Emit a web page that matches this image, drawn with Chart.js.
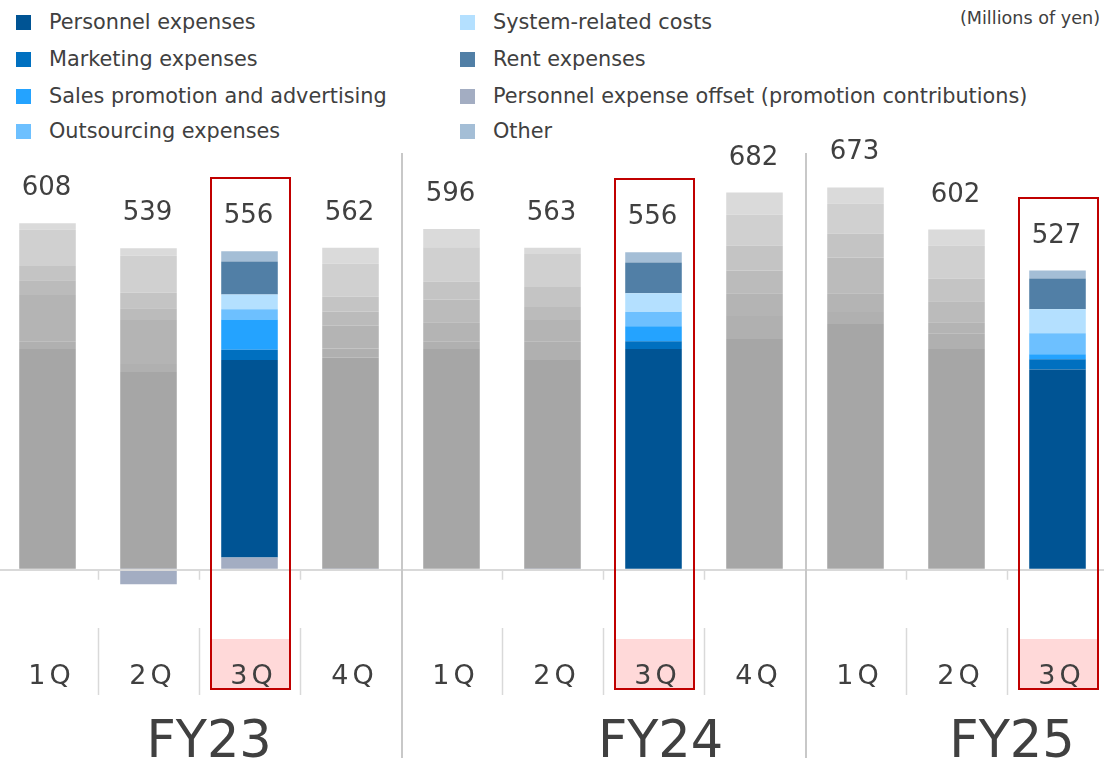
<!DOCTYPE html>
<html lang="en">
<head>
<meta charset="UTF-8">
<title>SG&amp;A expenses by quarter</title>
<style>
  html, body {
    margin: 0;
    padding: 0;
    width: 1104px;
    height: 761px;
    overflow: hidden;
    background: #fff;
    font-family: 'DejaVu Sans', Verdana, sans-serif;
  }
  .chart-box {
    position: absolute;
    left: -3px;
    top: 0;
    width: 1111px;
    height: 761px;
  }
  .legend-item {
    position: absolute;
    font-size: 20.8px;
    line-height: 24px;
    color: #404040;
    white-space: nowrap;
  }
  .legend-item i {
    position: absolute;
    left: -33px;
    top: 5px;
    width: 15px;
    height: 15px;
  }
  .unit {
    position: absolute;
    right: 4px;
    top: 8px;
    font-size: 17.6px;
    color: #404040;
  }
</style>
<script src="https://cdn.jsdelivr.net/npm/chart.js"></script>
</head>
<body>
<div id="legend"></div>
<div class="unit">(Millions of yen)</div>
<div class="chart-box"><canvas id="costChart"></canvas></div>

<script>
// quarters along the axis, grouped by fiscal year
const quarters = ['1Q', '2Q', '3Q', '4Q', '1Q', '2Q', '3Q', '4Q', '1Q', '2Q', '3Q'];
const years = ['FY23', 'FY24', 'FY25'];
const totals = [608, 539, 556, 562, 596, 563, 556, 682, 673, 602, 527];
const highlighted = [2, 6, 10]; // the 3Q columns shown in colour

// cost breakdown (millions of yen)
const personnel   = [386, 346, 347, 371, 386, 367, 386, 404, 430, 386, 350];
const marketing   = [14, 14, 18, 16, 14, 33, 14, 40, 21, 28, 18];
const salesPromo  = [81, 77, 53, 40, 33, 37, 26, 40, 33, 19, 9];
const outsourcing = [26, 21, 18, 25, 40, 23, 25, 40, 63, 37, 37];
const systemCosts = [25, 27, 26, 26, 32, 35, 33, 44, 42, 40, 42];
const rent        = [64, 65, 58, 58, 60, 58, 54, 54, 53, 58, 54];
const offset      = [0, -27, 20, -1.5, 0, -1.5, 0, 0, 0, 0, 0];
const other       = [11, 13, 18, 28, 32, 11, 18, 39, 28, 28, 14];

const seriesNames = [
    'Personnel expenses',
    'Marketing expenses',
    'Sales promotion and advertising',
    'Outsourcing expenses',
    'System-related costs',
    'Rent expenses',
    'Personnel expense offset (promotion contributions)',
    'Other'
];
const seriesValues = [personnel, marketing, salesPromo, outsourcing, systemCosts, rent, offset, other];

// styles
const seriesColors = ['#005494', '#0070C0', '#24A3FF', '#6DC0FF', '#B4E0FF', '#517FA6', '#A3ADC2', '#A4BED6'];
const greyShades   = ['#A6A6A6', '#B0B0B0', '#B4B4B4', '#BBBBBB', '#C4C4C4', '#D0D0D0', '#A3ADC2', '#DADADA'];
const stackOrder = [6, 0, 1, 2, 3, 4, 5, 7]; // offset sits at the bottom of the stack
const yearLabelAt = [1.6, 6.07, 9.55];     // horizontal position of FY labels, in category units
const textColor = '#404040';
const font = "'DejaVu Sans', Verdana, sans-serif";

// legend in two columns
const legend = document.getElementById('legend');
seriesNames.forEach((name, i) => {
    const col = Math.floor(i / 4), row = i % 4;
    const item = document.createElement('div');
    item.className = 'legend-item';
    item.style.left = (col ? 493 : 49) + 'px';
    item.style.top = [10, 47, 84, 119][row] + 'px';
    item.innerHTML = '<i style="background:' + seriesColors[i] + '"></i>' + name;
    legend.appendChild(item);
});

const datasets = stackOrder.map(s => ({
    label: seriesNames[s],
    data: seriesValues[s],
    backgroundColor: quarters.map((q, i) => highlighted.includes(i) ? seriesColors[s] : greyShades[s]),
    borderWidth: 0,
    categoryPercentage: 1,
    barPercentage: 0.56
}));

const decorations = {
    id: 'decorations',
    afterDatasetsDraw(chart) {
        const { ctx, scales: { x, y } } = chart;
        const base = y.getPixelForValue(0);
        const step = x.getPixelForValue(1) - x.getPixelForValue(0);
        const left = x.getPixelForValue(0) - step / 2;
        ctx.save();

        // label positions above each column
        const labelBase = quarters.map((q, i) => {
            let pos = 0;
            seriesValues.forEach(v => { if (v[i] > 0) pos += v[i]; });
            return y.getPixelForValue(pos) - 28;
        });

        // pink backgrounds under highlighted quarter labels
        ctx.fillStyle = '#FFD9D9';
        highlighted.forEach(i => {
            const cx = x.getPixelForValue(i);
            ctx.fillRect(cx - 39, 639, 79, 50);
        });

        // zero line
        ctx.fillStyle = '#D9D9D9';
        ctx.fillRect(0, Math.round(base), chart.width, 2);

        // quarter dividers: short ticks at the axis and lines in the label area
        ctx.strokeStyle = '#D9D9D9';
        ctx.lineWidth = 1.5;
        for (let i = 1; i < quarters.length; i++) {
            if (i % 4 === 0) continue;
            const bx = Math.round(left + i * step) + 0.5;
            ctx.beginPath();
            ctx.moveTo(bx, base + 1);
            ctx.lineTo(bx, base + 11);
            ctx.moveTo(bx, 628);
            ctx.lineTo(bx, 695);
            ctx.stroke();
        }

        // fiscal year dividers
        ctx.strokeStyle = '#C8C8C8';
        ctx.lineWidth = 2;
        [4, 8].forEach(i => {
            const bx = Math.round(left + i * step) + 1;
            ctx.beginPath();
            ctx.moveTo(bx, 153);
            ctx.lineTo(bx, 758);
            ctx.stroke();
        });

        // totals above bars
        ctx.fillStyle = textColor;
        ctx.textAlign = 'center';
        ctx.textBaseline = 'alphabetic';
        ctx.font = '26px ' + font;
        totals.forEach((t, i) => {
            ctx.fillText(String(t), x.getPixelForValue(i) - 1, labelBase[i]);
        });

        // quarter labels
        ctx.font = '27px ' + font;
        ctx.letterSpacing = '4px';
        quarters.forEach((q, i) => {
            ctx.fillText(q, x.getPixelForValue(i) + 4, 684);
        });
        ctx.letterSpacing = '0px';

        // fiscal year labels
        ctx.font = '51px ' + font;
        years.forEach((fy, k) => {
            ctx.fillText(fy, x.getPixelForValue(0) + yearLabelAt[k] * step, 757);
        });

        // red frames around highlighted columns
        ctx.strokeStyle = '#C00000';
        ctx.lineWidth = 2;
        highlighted.forEach(i => {
            const cx = x.getPixelForValue(i);
            const top = Math.round(labelBase[i] - 45);
            const right = Math.min(cx + 40, chart.width - 10);
            ctx.strokeRect(Math.round(cx - 39), top, Math.round(right - (cx - 39)), 689 - top);
        });

        ctx.restore();
    }
};

const costChart = new Chart(document.getElementById('costChart'), {
    type: 'bar',
    data: { labels: quarters, datasets: datasets },
    options: {
        responsive: true,
        maintainAspectRatio: false,
        animation: false,
        layout: { padding: { top: 159, bottom: 158, left: 0, right: 0 } },
        scales: {
            x: { stacked: true, display: false },
            y: { stacked: true, display: false, min: -60, max: 720 }
        },
        plugins: {
            legend: { display: false },
            tooltip: { enabled: false }
        }
    },
    plugins: [decorations]
});
</script>
</body>
</html>
